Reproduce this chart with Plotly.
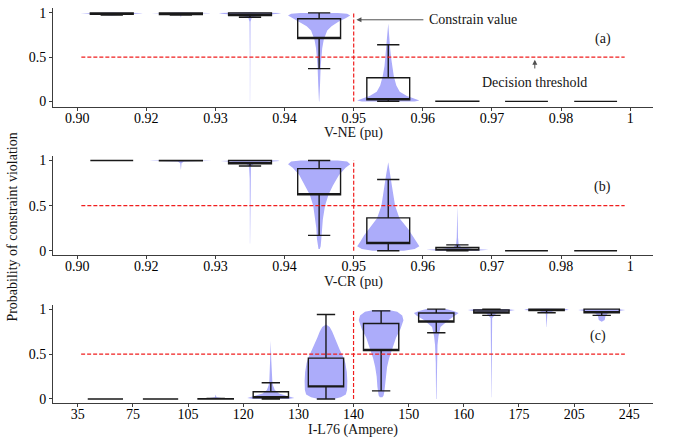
import plotly.graph_objects as go

# ---------------- data ----------------
ne_ticks = ["0.90", "0.92", "0.93", "0.94", "0.95", "0.96", "0.97", "0.98", "1"]
cr_ticks = ["0.90", "0.92", "0.93", "0.94", "0.95", "0.96", "0.97", "0.98", "1"]
il_ticks = ["35", "75", "105", "120", "130", "140", "150", "160", "175", "205", "245"]

# box statistics per bin (median drawn on q1: medians are not visible in the reference)
ne_q1 = [0.985, 0.98, 0.97, 0.71, 0.019, 0.0, 0.0, 0.0]
ne_q3 = [1.0, 1.0, 1.0, 0.933, 0.267, 0.003, 0.0, 0.0]
ne_lo = [0.975, 0.975, 0.95, 0.37, 0.0, 0.0, 0.0, 0.0]
ne_hi = [1.0, 1.0, 1.0, 1.0, 0.64, 0.003, 0.0, 0.0]

cr_q1 = [1.0, 0.998, 0.964, 0.62, 0.08, 0.007, 0.0, 0.0]
cr_q3 = [1.0, 1.0, 1.0, 0.91, 0.364, 0.037, 0.0, 0.0]
cr_lo = [1.0, 0.998, 0.94, 0.17, 0.0, 0.0, 0.0, 0.0]
cr_hi = [1.0, 1.0, 1.0, 1.0, 0.79, 0.065, 0.0, 0.0]

il_q1 = [0.0, 0.0, 0.0, 0.014, 0.135, 0.54, 0.857, 0.956, 0.985, 0.96]
il_q3 = [0.0, 0.0, 0.003, 0.08, 0.455, 0.84, 0.956, 0.99, 1.0, 1.0]
il_lo = [0.0, 0.0, 0.0, 0.0, 0.0, 0.09, 0.737, 0.93, 0.96, 0.93]
il_hi = [0.0, 0.0, 0.005, 0.18, 0.94, 0.98, 1.0, 1.0, 1.0, 1.0]

# violin density profiles (probability level, relative half-width) per bin
ne_vy = [
    [0.97, 0.985, 0.995, 1.0, 1.005],
    [0.95, 0.975, 0.99, 0.997, 1.0, 1.005],
    [0.0, 0.5, 0.9, 0.95, 0.97, 0.99, 1.0, 1.006],
    [0.0, 0.05, 0.2, 0.4, 0.5, 0.6, 0.7, 0.8, 0.85, 0.9, 0.94, 0.97, 0.99, 1.0],
    [0.0, 0.01, 0.03, 0.06, 0.11, 0.18, 0.28, 0.4, 0.5, 0.6, 0.72, 0.8, 0.88],
    [], [], [],
]
ne_vw = [
    [0.0, 0.5, 1.0, 0.9, 0.0],
    [0.003, 0.02, 0.3, 0.95, 0.9, 0.0],
    [0.003, 0.006, 0.015, 0.06, 0.3, 0.9, 1.0, 0.0],
    [0.005, 0.015, 0.03, 0.05, 0.07, 0.1, 0.15, 0.26, 0.4, 0.62, 0.85, 1.0, 0.9, 0.6],
    [0.85, 1.0, 0.85, 0.6, 0.37, 0.26, 0.18, 0.12, 0.09, 0.06, 0.04, 0.02, 0.0],
    [], [], [],
]

cr_vy = [
    [0.995, 1.0, 1.004],
    [0.9, 0.97, 0.99, 0.997, 1.0, 1.003],
    [0.08, 0.4, 0.8, 0.93, 0.96, 0.98, 0.995, 1.0, 1.006],
    [0.02, 0.05, 0.13, 0.25, 0.35, 0.5, 0.62, 0.72, 0.84, 0.92, 0.96, 0.99, 1.0],
    [0.0, 0.02, 0.05, 0.1, 0.17, 0.24, 0.36, 0.5, 0.67, 0.84, 0.98],
    [0.0, 0.01, 0.02, 0.04, 0.07, 0.15, 0.3, 0.5],
    [], [],
]
cr_vw = [
    [0.0, 0.5, 0.0],
    [0.003, 0.02, 0.1, 0.9, 1.0, 0.0],
    [0.003, 0.006, 0.01, 0.03, 0.1, 0.4, 0.95, 0.9, 0.0],
    [0.02, 0.05, 0.07, 0.09, 0.12, 0.19, 0.3, 0.44, 0.64, 0.85, 1.0, 0.9, 0.6],
    [0.5, 0.85, 1.0, 0.9, 0.78, 0.64, 0.36, 0.22, 0.14, 0.07, 0.0],
    [0.6, 1.0, 0.5, 0.12, 0.04, 0.02, 0.012, 0.0],
    [], [],
]

il_vy = [
    [], [],
    [0.0, 0.005, 0.02, 0.05],
    [0.0, 0.01, 0.03, 0.06, 0.1, 0.15, 0.2, 0.3, 0.45, 0.65],
    [0.0, 0.02, 0.05, 0.1, 0.2, 0.3, 0.4, 0.46, 0.55, 0.62, 0.68, 0.75, 0.8, 0.83],
    [0.02, 0.04, 0.08, 0.135, 0.25, 0.355, 0.45, 0.55, 0.68, 0.78, 0.875, 0.93, 0.97, 0.99],
    [0.0, 0.2, 0.4, 0.6, 0.7, 0.8, 0.88, 0.93, 0.956, 0.98, 1.0],
    [0.02, 0.5, 0.9, 0.95, 0.97, 0.99, 1.0],
    [0.8, 0.95, 0.98, 0.99, 1.0, 1.005],
    [0.86, 0.88, 0.92, 0.95, 0.97, 0.99, 1.0],
]
il_vw = [
    [], [],
    [0.5, 0.4, 0.03, 0.0],
    [0.7, 0.95, 0.7, 0.33, 0.16, 0.09, 0.06, 0.03, 0.015, 0.0],
    [0.3, 0.6, 0.8, 0.85, 0.86, 0.84, 0.78, 0.71, 0.55, 0.45, 0.35, 0.25, 0.15, 0.0],
    [0.05, 0.1, 0.13, 0.15, 0.18, 0.24, 0.32, 0.43, 0.6, 0.78, 0.9, 0.85, 0.65, 0.3],
    [0.008, 0.012, 0.02, 0.05, 0.09, 0.17, 0.5, 0.8, 0.9, 0.7, 0.4],
    [0.004, 0.008, 0.03, 0.2, 0.6, 0.95, 0.6],
    [0.004, 0.03, 0.3, 0.9, 0.8, 0.0],
    [0.0, 0.12, 0.15, 0.25, 0.5, 0.95, 0.6],
]

decision_threshold = 0.5
ne_constraint_tick = "0.95"
cr_constraint_tick = "0.95"
il_constraint_tick = "140"

# ---------------- style ----------------
FONT = "Liberation Serif"
VIOLIN = "rgb(172,172,250)"
BOXLINE = "rgb(25,25,25)"
RED = "rgb(240,30,30)"
AXC = "rgb(60,60,60)"
HALF_W = 0.45

panels = [
    (ne_ticks, ne_q1, ne_q3, ne_lo, ne_hi, ne_vy, ne_vw, ne_constraint_tick, 0.62),
    (cr_ticks, cr_q1, cr_q3, cr_lo, cr_hi, cr_vy, cr_vw, cr_constraint_tick, 0.62),
    (il_ticks, il_q1, il_q3, il_lo, il_hi, il_vy, il_vw, il_constraint_tick, 0.64),
]

domains = [(1 - 106 / 445, 1 - 5 / 445), (1 - 256 / 445, 1 - 155 / 445), (1 - 406.7 / 445, 1 - 306.7 / 445)]
yranges = [[-0.067, 1.056], [-0.047, 1.055], [-0.048, 1.047]]

fig = go.Figure()
layout = {}

for r, (ticks, q1, q3, lo, hi, vy, vw, ctick, bw) in enumerate(panels, start=1):
    n = len(ticks) - 1
    centers = [i + 0.5 for i in range(n)]
    xb, yb = f"x{r}", f"y{r}"          # base axes: violins
    xo, yo = f"x{r + 3}", f"y{r + 3}"  # overlay axes: boxes and reference lines on top
    # violins
    for c, ys, ws in zip(centers, vy, vw):
        if not ys:
            continue
        xs = [c + w * HALF_W for w in ws] + [c - w * HALF_W for w in reversed(ws)]
        yy = list(ys) + list(reversed(ys))
        fig.add_trace(go.Scatter(x=xs, y=yy, mode="lines", fill="toself", xaxis=xb, yaxis=yb,
                                 fillcolor=VIOLIN, line=dict(width=0, color=VIOLIN),
                                 hoverinfo="skip", showlegend=False))
    # boxes
    fig.add_trace(go.Box(x=centers, q1=q1, median=q1, q3=q3, lowerfence=lo, upperfence=hi,
                         width=bw, whiskerwidth=0.52, boxpoints=False, xaxis=xo, yaxis=yo,
                         line=dict(color=BOXLINE, width=1.4), fillcolor="rgba(0,0,0,0)",
                         showlegend=False))
    # threshold line and constraint line
    xc = ticks.index(ctick)
    fig.add_trace(go.Scatter(x=[0.06, n - 0.08], y=[decision_threshold] * 2, mode="lines",
                             xaxis=xo, yaxis=yo,
                             line=dict(color=RED, width=1.2, dash="4px,2px"),
                             hoverinfo="skip", showlegend=False))
    fig.add_trace(go.Scatter(x=[xc, xc], y=[0, 1], mode="lines", xaxis=xo, yaxis=yo,
                             line=dict(color=RED, width=1.2, dash="4px,2px"),
                             hoverinfo="skip", showlegend=False))

    left_pad = 0.35 if n == 8 else 0.45
    right_pad = 0.33 if n == 8 else 0.43
    xr = [-left_pad, n + right_pad]
    layout[f"xaxis{r}"] = dict(range=xr, tickvals=list(range(len(ticks))), ticktext=ticks,
                               anchor=yb, domain=[0, 1], ticklabelstandoff=-5,
                               showline=True, linecolor=AXC, linewidth=1, ticks="outside", ticklen=3,
                               tickcolor=AXC, showgrid=False, zeroline=False,
                               tickfont=dict(family=FONT, size=14, color="black"))
    layout[f"yaxis{r}"] = dict(range=yranges[r - 1], tickvals=[0, 0.5, 1], ticktext=["0", "0.5", "1"],
                               anchor=xb, domain=list(domains[r - 1]),
                               showline=True, linecolor=AXC, linewidth=1, ticks="outside", ticklen=3,
                               tickcolor=AXC, showgrid=False, zeroline=False,
                               tickfont=dict(family=FONT, size=14, color="black"))
    layout[f"xaxis{r + 3}"] = dict(range=xr, overlaying=xb, anchor=yo, visible=False,
                                   showgrid=False, zeroline=False)
    layout[f"yaxis{r + 3}"] = dict(range=yranges[r - 1], overlaying=yb, anchor=xo, visible=False,
                                   showgrid=False, zeroline=False)

afont = dict(family=FONT, size=14, color="rgb(20,20,20)")
annotations = [
    # axis titles
    dict(text="V-NE (pu)", xref="paper", yref="paper", x=0.5, y=1 - 132 / 445, yanchor="middle",
         xanchor="center", showarrow=False, font=afont, borderpad=0),
    dict(text="V-CR (pu)", xref="paper", yref="paper", x=0.5, y=1 - 283 / 445, yanchor="middle",
         xanchor="center", showarrow=False, font=afont, borderpad=0),
    dict(text="I-L76 (Ampere)", xref="paper", yref="paper", x=0.5, y=1 - 434 / 445, yanchor="middle",
         xanchor="center", showarrow=False, font=afont, borderpad=0),
    dict(text="Probability of constraint violation", xref="paper", yref="paper", x=-0.068,
         y=1 - 228 / 445, xanchor="center", yanchor="middle",
         textangle=-90, showarrow=False, font=afont),
    # panel labels
    dict(text="(a)", xref="x1", yref="y1", x=7.6, y=0.7, showarrow=False, font=afont),
    dict(text="(b)", xref="x2", yref="y2", x=7.6, y=0.705, showarrow=False, font=afont),
    dict(text="(c)", xref="x3", yref="y3", x=9.43, y=0.70, showarrow=False, font=afont),
    # constrain value
    dict(text="Constrain value", xref="x1", yref="y1", x=5.06, y=0.922, xanchor="left",
         showarrow=False, font=afont),
    dict(text="", xref="x1", yref="y1", x=4.04, y=0.922, ax=5.03, ay=0.922, axref="x1", ayref="y1",
         showarrow=True, arrowhead=2, arrowsize=1, arrowwidth=1, arrowcolor="rgb(80,80,80)"),
    # decision threshold
    dict(text="Decision threshold", xref="x1", yref="y1", x=6.62, y=0.21, showarrow=False, font=afont),
    dict(text="", xref="x1", yref="y1", x=6.62, y=0.47, ax=6.62, ay=0.355, axref="x1", ayref="y1",
         showarrow=True, arrowhead=2, arrowsize=1, arrowwidth=1, arrowcolor="rgb(80,80,80)"),
]

fig.update_layout(width=673, height=445, margin=dict(l=53, r=20, t=0, b=0),
                  plot_bgcolor="white", paper_bgcolor="white", annotations=annotations,
                  showlegend=False, font=dict(family=FONT, size=14), **layout)

fig.write_html("out.html")
